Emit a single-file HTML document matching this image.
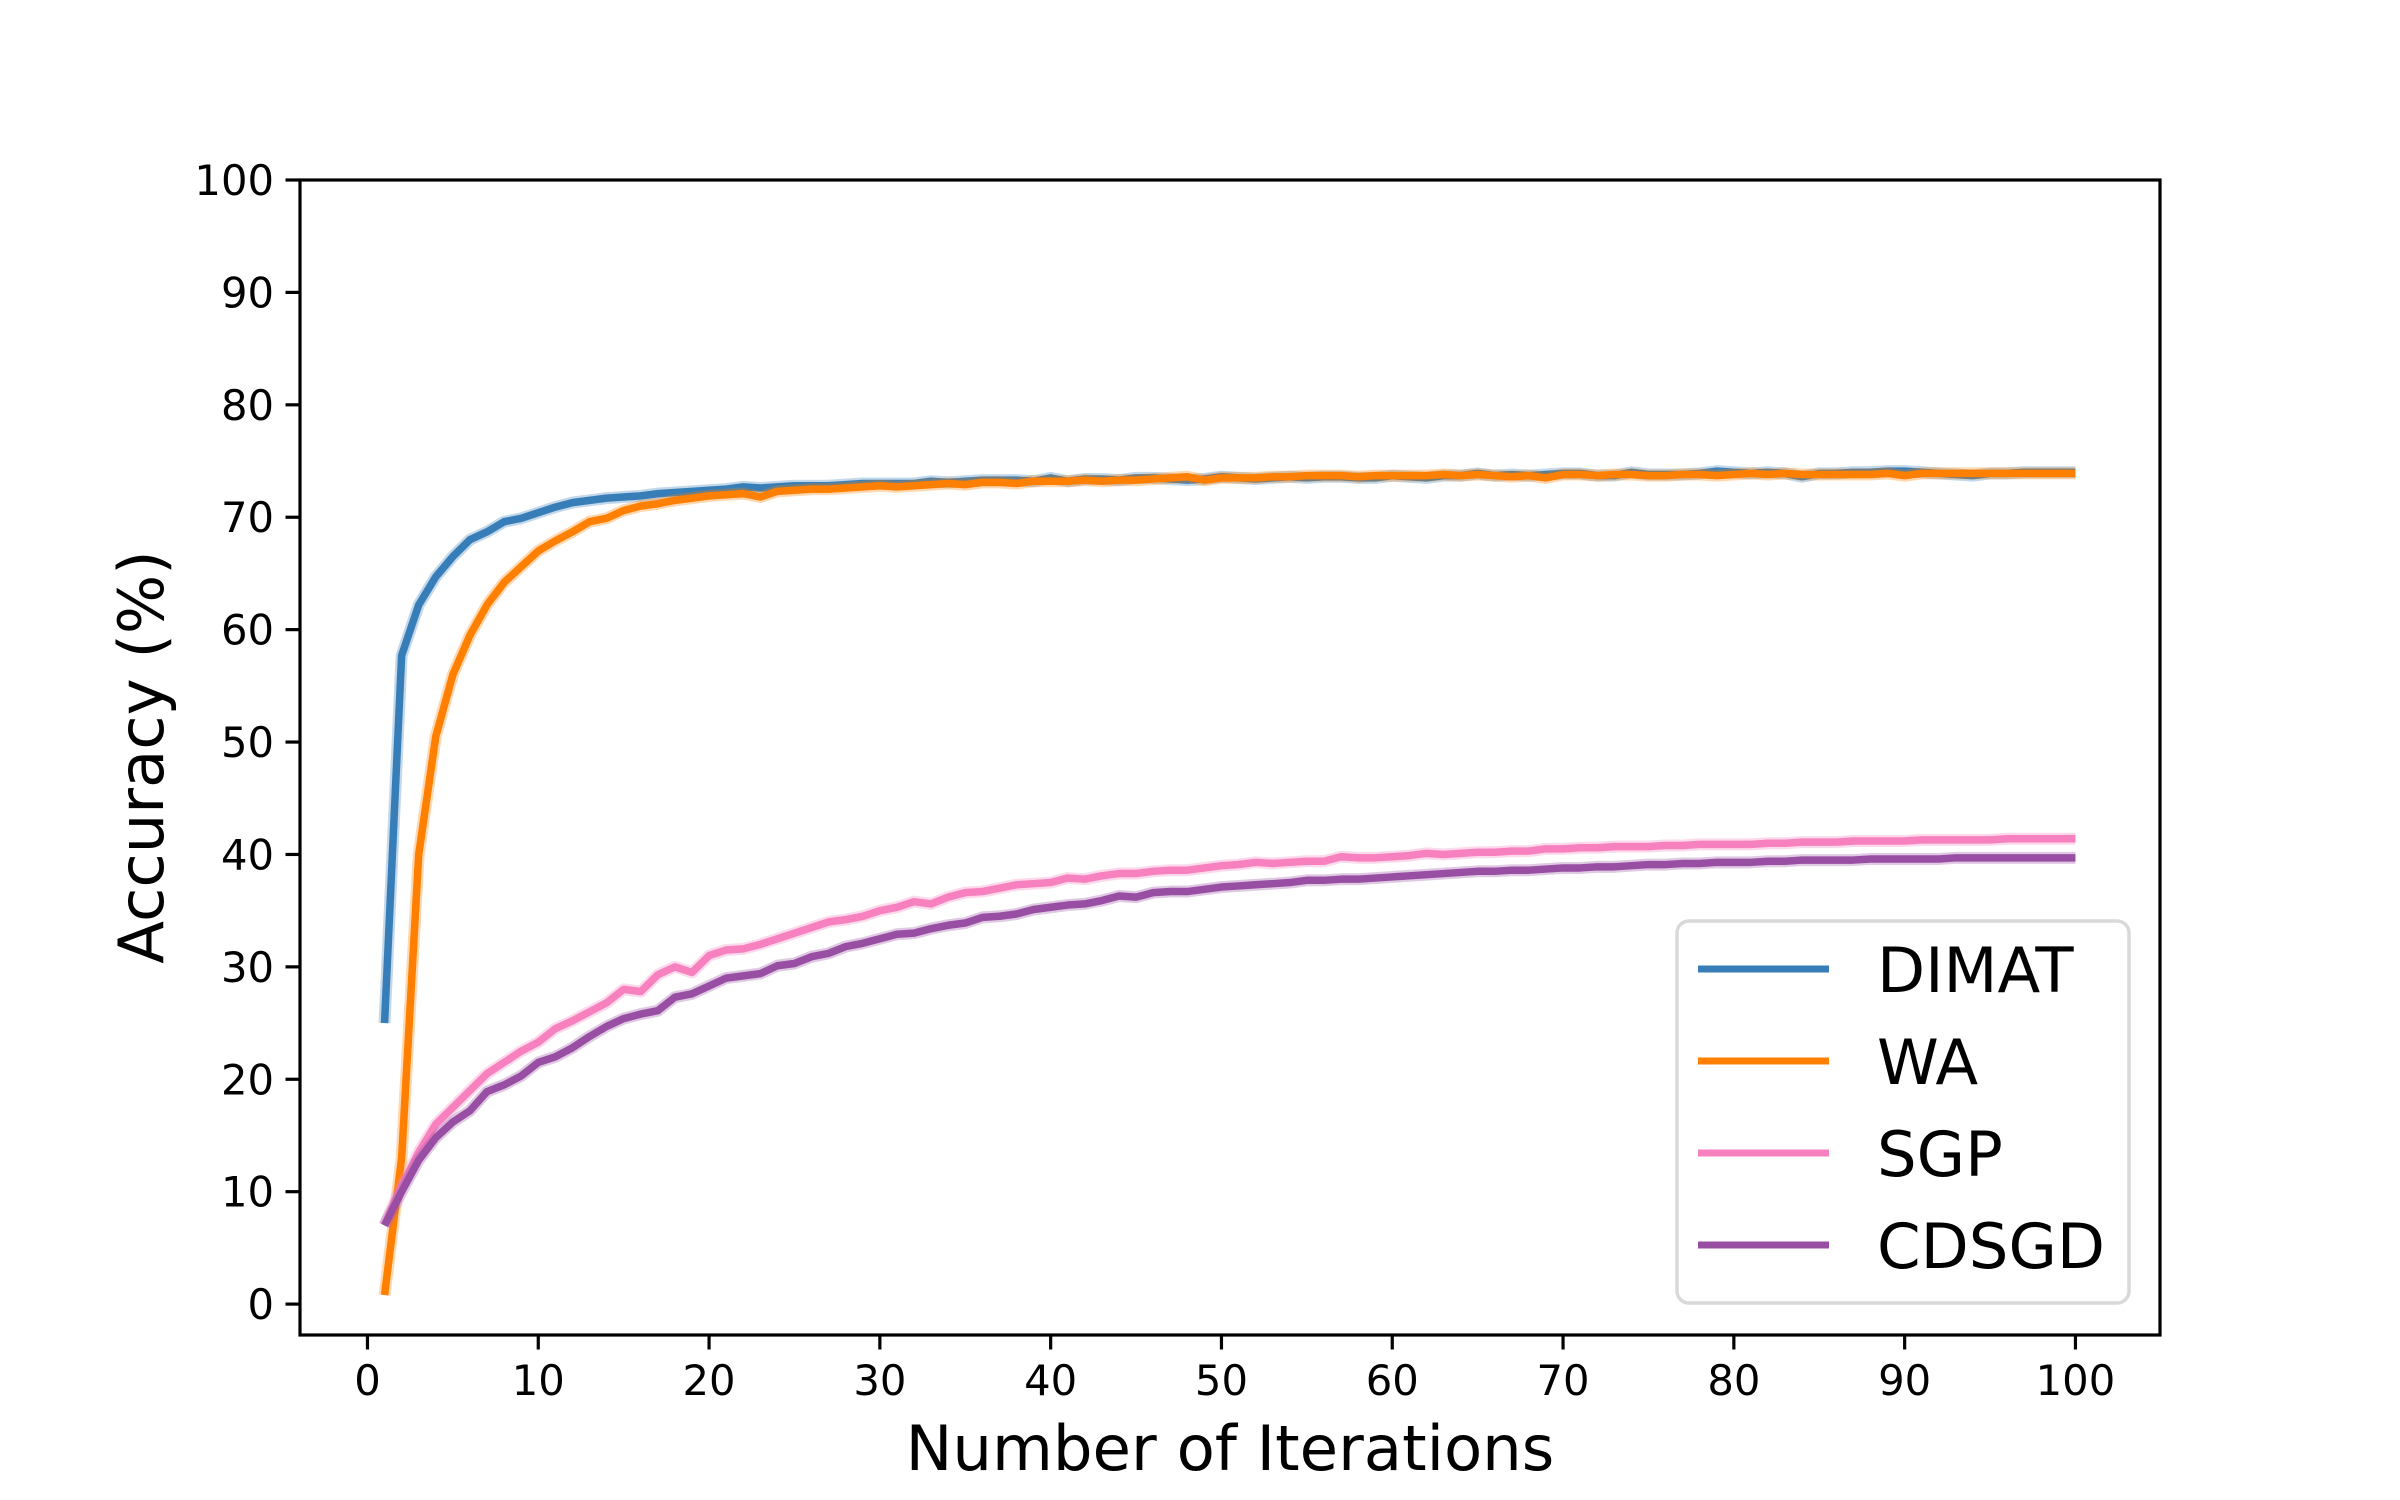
<!DOCTYPE html>
<html><head><meta charset="utf-8"><style>
html,body{margin:0;padding:0;background:#fff}
svg{display:block}
text{font-family:"DejaVu Sans","Liberation Sans",sans-serif;fill:#000}
</style></head><body>
<svg id="chart" width="2400" height="1500" viewBox="0 0 2400 1500" xmlns="http://www.w3.org/2000/svg">
<rect width="2400" height="1500" fill="#fff"/>
<g id="plot"></g>
</svg>
<script>
const xTicks=[0,10,20,30,40,50,60,70,80,90,100];
const yTicks=[0,10,20,30,40,50,60,70,80,90,100];
const seriesNames=["DIMAT","WA","SGP","CDSGD"];
const dimat=[25,57.7,62.2,64.7,66.5,68,68.7,69.6,69.9,70.4,
70.9,71.3,71.5,71.7,71.8,71.9,72.1,72.2,72.3,72.4,
72.5,72.7,72.6,72.7,72.8,72.8,72.8,72.9,73,73,
73,73,73.2,73.1,73.2,73.3,73.3,73.3,73.2,73.5,
73.2,73.4,73.4,73.3,73.5,73.5,73.4,73.3,73.4,73.6,
73.5,73.4,73.5,73.6,73.5,73.6,73.6,73.5,73.5,73.7,
73.6,73.5,73.7,73.7,73.9,73.7,73.8,73.7,73.8,73.9,
73.9,73.7,73.7,74,73.8,73.8,73.8,73.9,74.1,74,
73.9,74,73.9,73.6,73.9,73.9,74,74,74.1,74.1,
74,73.9,73.8,73.7,73.9,73.9,74,74,74,74];
const wa=[0.8,13,40,50.5,56,59.5,62.2,64.2,65.6,67,
67.9,68.7,69.6,69.9,70.6,71,71.2,71.5,71.7,71.9,
72,72.1,71.8,72.3,72.4,72.5,72.5,72.6,72.7,72.8,
72.7,72.8,72.9,73,72.9,73.1,73.1,73,73.2,73.2,
73.2,73.3,73.2,73.3,73.3,73.4,73.5,73.6,73.3,73.5,
73.5,73.5,73.6,73.6,73.7,73.7,73.7,73.6,73.7,73.7,
73.7,73.7,73.8,73.7,73.8,73.7,73.6,73.7,73.5,73.8,
73.8,73.7,73.8,73.8,73.7,73.7,73.8,73.8,73.7,73.8,
73.9,73.8,73.9,73.8,73.8,73.8,73.8,73.8,73.9,73.7,
73.9,73.9,73.9,73.9,73.9,73.9,73.9,73.9,73.9,73.9];
const sgp=[7,10.5,13.5,16,17.5,19,20.5,21.5,22.5,23.3,
24.5,25.2,26,26.8,28,27.8,29.3,30,29.5,31,
31.5,31.6,32,32.5,33,33.5,34,34.2,34.5,35,
35.3,35.8,35.6,36.2,36.6,36.7,37,37.3,37.4,37.5,
37.9,37.8,38.1,38.3,38.3,38.5,38.6,38.6,38.8,39,
39.1,39.3,39.2,39.3,39.4,39.4,39.8,39.7,39.7,39.8,
39.9,40.1,40,40.1,40.2,40.2,40.3,40.3,40.5,40.5,
40.6,40.6,40.7,40.7,40.7,40.8,40.8,40.9,40.9,40.9,
40.9,41,41,41.1,41.1,41.1,41.2,41.2,41.2,41.2,
41.3,41.3,41.3,41.3,41.3,41.4,41.4,41.4,41.4,41.4];
const cdsgd=[7,10,12.8,14.8,16.2,17.2,18.9,19.5,20.3,21.5,
22,22.8,23.8,24.7,25.4,25.8,26.1,27.3,27.6,28.3,
29,29.2,29.4,30.1,30.3,30.9,31.2,31.8,32.1,32.5,
32.9,33,33.4,33.7,33.9,34.4,34.5,34.7,35.1,35.3,
35.5,35.6,35.9,36.3,36.2,36.6,36.7,36.7,36.9,37.1,
37.2,37.3,37.4,37.5,37.7,37.7,37.8,37.8,37.9,38,
38.1,38.2,38.3,38.4,38.5,38.5,38.6,38.6,38.7,38.8,
38.8,38.9,38.9,39,39.1,39.1,39.2,39.2,39.3,39.3,
39.3,39.4,39.4,39.5,39.5,39.5,39.5,39.6,39.6,39.6,
39.6,39.6,39.7,39.7,39.7,39.7,39.7,39.7,39.7,39.7];

const NS="http://www.w3.org/2000/svg";
const L=300,R=2160,T=180,B=1335;
const xMin=-3.95,xMax=104.95,yMin=-2.75,yMax=100;
function sx(v){return L+(v-xMin)/(xMax-xMin)*(R-L);}
function sy(v){return B-(v-yMin)/(yMax-yMin)*(B-T);}
const g=document.getElementById('plot');
function mk(tag,attrs,parent){const e=document.createElementNS(NS,tag);for(const k in attrs)e.setAttribute(k,attrs[k]);(parent||g).appendChild(e);return e;}

const colors=["#377eb8","#ff7f00","#f781bf","#984ea3"];
const allData=[dimat,wa,sgp,cdsgd];
allData.forEach((arr,si)=>{
  let d="";
  arr.forEach((v,i)=>{d+=(i?"L":"M")+sx(i+1).toFixed(2)+","+sy(v).toFixed(2);});
  const band=mk('path',{d:d,fill:"none",stroke:colors[si],"stroke-width":12,"stroke-opacity":0.3,"stroke-linejoin":"round"});
  
  
  const p=mk('path',{d:d,fill:"none",stroke:colors[si],"stroke-width":7.5,"stroke-linejoin":"round"});
  
  
});

const frame=mk('rect',{x:L,y:T,width:R-L,height:B-T,fill:"none",stroke:"#000","stroke-width":3.2});



xTicks.forEach(v=>{
  const t=mk('line',{x1:sx(v),x2:sx(v),y1:B,y2:B+14.5,stroke:"#000","stroke-width":3.2});
  
  
  const tx=mk('text',{x:sx(v),y:B+60,"font-size":41.7,"text-anchor":"middle"});
  tx.textContent=v;
  
  
});
yTicks.forEach(v=>{
  const t=mk('line',{x1:L-14.5,x2:L,y1:sy(v),y2:sy(v),stroke:"#000","stroke-width":3.2});
  
  
  const tx=mk('text',{x:L-26,y:sy(v)+15,"font-size":41.7,"text-anchor":"end"});
  tx.textContent=v;
  
  
});

const xl=mk('text',{x:(L+R)/2,y:1470,"font-size":62.5,"text-anchor":"middle"});
xl.textContent="Number of Iterations";


const yl=mk('text',{x:0,y:0,"font-size":62.5,"text-anchor":"middle",transform:"translate(163,757) rotate(-90)"});
yl.textContent="Accuracy (%)";



const lg=mk('g',{});


const box=mk('rect',{x:1677,y:921,width:452,height:382,rx:12,fill:"#fff","fill-opacity":0.8,stroke:"#d9d9d9","stroke-width":3.5},lg);


seriesNames.forEach((n,i)=>{
  const yy=969+i*92;
  const ln=mk('line',{x1:1698,x2:1829,y1:yy,y2:yy,stroke:colors[i],"stroke-width":7},lg);
  
  
  const tx=mk('text',{x:1877,y:yy+23,"font-size":62.5},lg);
  tx.textContent=n;
  
  
});
</script>
</body></html>
